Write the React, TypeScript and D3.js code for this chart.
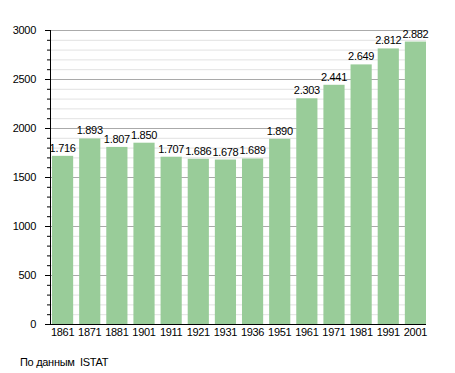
import React, { useEffect, useRef } from 'react';
import * as d3 from 'd3';

const years = ['1861', '1871', '1881', '1901', '1911', '1921', '1931', '1936', '1951', '1961', '1971', '1981', '1991', '2001'];
const population = [1716, 1893, 1807, 1850, 1707, 1686, 1678, 1689, 1890, 2303, 2441, 2649, 2812, 2882];
const majorTicks = [0, 500, 1000, 1500, 2000, 2500, 3000];
const source = 'По данным  ISTAT';

export default function App() {
  const ref = useRef<SVGSVGElement>(null);

  useEffect(() => {
    const svg = d3.select(ref.current);
    svg.selectAll('*').remove();

    const left = 50, right = 426, top = 30, bottom = 324;
    const font = 'Liberation Sans, Arial, sans-serif';
    const ls = -0.3;
    const fs = 11;

    const y = d3.scaleLinear().domain([0, 3000]).range([bottom, top]);
    const x = d3.scaleBand<string>()
      .domain(years)
      .range([52, right])
      .paddingInner(0.22)
      .paddingOuter(0);

    const fmt = (v: number) => d3.format(',')(v).replace(',', '.');

    // minor grid
    const minor = d3.range(100, 3000, 100).filter(v => v % 500 !== 0);
    svg.append('g').selectAll('line').data(minor).enter().append('line')
      .attr('x1', left).attr('x2', right)
      .attr('y1', d => y(d) + 0.5).attr('y2', d => y(d) + 0.5)
      .attr('stroke', '#e2e2e2');

    // major grid
    svg.append('g').selectAll('line').data(majorTicks.slice(1)).enter().append('line')
      .attr('x1', left).attr('x2', right)
      .attr('y1', d => y(d) + 0.5).attr('y2', d => y(d) + 0.5)
      .attr('stroke', '#aaaaaa');

    // bars
    svg.append('g').selectAll('rect').data(population).enter().append('rect')
      .attr('x', (d, i) => x(years[i])!)
      .attr('width', x.bandwidth())
      .attr('y', d => y(d))
      .attr('height', d => bottom - y(d))
      .attr('fill', '#99cc99');

    // value labels
    svg.append('g').selectAll('text').data(population).enter().append('text')
      .attr('x', (d, i) => x(years[i])! + x.bandwidth() / 2)
      .attr('y', d => y(d) - 4)
      .attr('text-anchor', 'middle')
      .attr('font-family', font)
      .attr('font-size', fs)
      .attr('letter-spacing', ls)
      .attr('fill', '#000')
      .text(d => fmt(d));

    // y axis
    svg.append('line')
      .attr('x1', left + 0.5).attr('x2', left + 0.5)
      .attr('y1', top).attr('y2', bottom)
      .attr('stroke', '#000');
    svg.append('g').selectAll('line').data(minor).enter().append('line')
      .attr('x1', left - 3).attr('x2', left)
      .attr('y1', d => y(d) + 0.5).attr('y2', d => y(d) + 0.5)
      .attr('stroke', '#000');
    svg.append('g').selectAll('line').data(majorTicks).enter().append('line')
      .attr('x1', left - 5).attr('x2', left)
      .attr('y1', d => y(d) + 0.5).attr('y2', d => y(d) + 0.5)
      .attr('stroke', '#000');
    svg.append('g').selectAll('text').data(majorTicks).enter().append('text')
      .attr('x', 36)
      .attr('y', d => y(d) + 4)
      .attr('text-anchor', 'end')
      .attr('font-family', font)
      .attr('font-size', fs)
      .attr('letter-spacing', ls)
      .text(d => String(d));

    // x axis
    svg.append('line')
      .attr('x1', left).attr('x2', right)
      .attr('y1', bottom + 0.5).attr('y2', bottom + 0.5)
      .attr('stroke', '#000');
    svg.append('g').selectAll('text').data(years).enter().append('text')
      .attr('x', d => x(d)! + x.bandwidth() / 2)
      .attr('y', 336)
      .attr('text-anchor', 'middle')
      .attr('font-family', font)
      .attr('font-size', fs)
      .attr('letter-spacing', ls)
      .text(d => d);

    svg.append('text')
      .attr('x', 20)
      .attr('y', 366)
      .attr('font-family', font)
      .attr('font-size', fs)
      .attr('letter-spacing', ls)
      .attr('xml:space', 'preserve')
      .style('white-space', 'pre')
      .text(source);
  }, []);

  return (
    <svg ref={ref} width={455} height={373}
      style={{ position: 'absolute', left: 0, top: 0, background: '#fff' }} />
  );
}
